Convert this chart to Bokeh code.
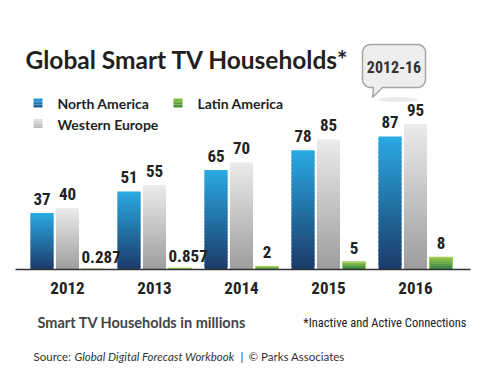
import numpy as np
from bokeh.plotting import figure
from bokeh.models import Range1d
from bokeh.core.properties import value
from bokeh.embed import file_html
from bokeh.resources import INLINE

# ---------------- data ----------------
years = ["2012", "2013", "2014", "2015", "2016"]
north_america = [37, 51, 65, 78, 87]
western_europe = [40, 55, 70, 85, 95]
latin_america = [0.287, 0.857, 2, 5, 8]
series_names = ["North America", "Latin America", "Western Europe"]

title_text = "Global Smart TV Households*"
bubble_text = "2012-16"
unit_text = "Smart TV Households in millions"
note_text = "*Inactive and Active Connections"

# ---------------- styles ----------------
NUM_FONT = value("'Roboto Condensed', 'Noto Sans Condensed', 'Liberation Sans Narrow', 'Arial Narrow', 'Noto Sans ExtraCondensed', Roboto")
TXT_FONT = value("Lato")
NA_COLS = ("#1b3a69", "#2aaae2")
WE_COLS = ("#9d9d9d", "#ebebeb")
LA_COLS = ("#1c7136", "#93c940")

W, H = 480, 372
X0, SX = 67, 87        # page px of first group, px per group
Y0, SY = 269, 1.53     # page px of baseline, px per million
p = figure(width=W, height=H, output_backend="svg", toolbar_location=None,
           x_axis_location=None, y_axis_location=None, min_border=0,
           x_range=Range1d(-X0 / SX, (W - X0) / SX),
           y_range=Range1d(-(H - Y0) / SY, Y0 / SY))
p.outline_line_color = None
p.xgrid.visible = False
p.ygrid.visible = False
p.background_fill_color = "white"
p.border_fill_color = "white"

# pixel ranges (page coordinates) for decoration
p.extra_x_ranges = {"px": Range1d(0, W)}
p.extra_y_ranges = {"px": Range1d(H, 0)}
PX = dict(x_range_name="px", y_range_name="px")


def hex2rgb(h):
    h = h.lstrip("#")
    return np.array([int(h[i:i + 2], 16) for i in (0, 2, 4)], dtype=float)


def lerp(c1, c2, t):
    a, b = hex2rgb(c1), hex2rgb(c2)
    c = a + (b - a) * t
    return "#%02x%02x%02x" % tuple(int(round(v)) for v in c)


N = 30


def grad_bars(xs, vals, width, cols):
    L, R, B, T, C = [], [], [], [], []
    for x, v in zip(xs, vals):
        for k in range(N):
            L.append(x - width / 2)
            R.append(x + width / 2)
            B.append(v * k / N)
            T.append(min(v, v * (k + 1.6) / N))
            C.append(lerp(cols[0], cols[1], (k + 0.5) / N))
    p.quad(left=L, right=R, bottom=B, top=T, fill_color=C, line_color=None)


idx = np.arange(len(years))
off = 0.293
bw = 0.265
grad_bars(idx - off, north_america, bw, NA_COLS)
grad_bars(idx, western_europe, bw, WE_COLS)
grad_bars(idx + off, latin_america, bw, LA_COLS)
# thin outline so tiny bars remain visible
p.vbar(x=idx + off, top=latin_america, width=bw, fill_color=None,
       line_color="#9ccc4a", line_width=1)


def labels(xs, vals, align="center", yoff=-14):
    p.text(x=list(xs), y=list(vals), text=[f"{v:g}" for v in vals],
           text_font=NUM_FONT, text_font_style="bold", text_font_size="17px",
           text_color="#222222", text_align=align, text_baseline="alphabetic",
           y_offset=yoff)


labels(idx - off, north_america)
labels(idx, western_europe)
small = [i for i, v in enumerate(latin_america) if v < 1]
big = [i for i, v in enumerate(latin_america) if v >= 1]
labels([i + off - bw / 2 for i in small], [latin_america[i] for i in small], "left", -12)
labels([i + off for i in big], [latin_america[i] for i in big], "center", -14)

# baseline
p.line(x=[15, 470], y=[269, 269], line_color="#333333", line_width=1.5, **PX)

# year labels
p.text(x=list(idx), y=[0] * len(years), text=years, text_font=NUM_FONT,
       text_font_style="bold", text_font_size="17px", text_color="#222222",
       text_align="center", text_baseline="alphabetic", y_offset=18)

# title
p.text(x=[25], y=[59], text=[title_text], text_font=TXT_FONT,
       text_font_style="bold", text_font_size="24.5px", text_color="#231f20",
       text_baseline="alphabetic", **PX)

# legend
leg = [(37.5, 102.5, NA_COLS), (177.5, 102.5, LA_COLS), (37.5, 123, WE_COLS)]
for (cx, cy, cols), name in zip(leg, series_names):
    for k in range(6):
        p.quad(left=[cx - 4.5], right=[cx + 4.5],
               bottom=[cy + 4.5 - 9 * k / 6], top=[cy + 4.5 - 9 * (k + 1) / 6],
               fill_color=lerp(cols[0], cols[1], 0.3 + 0.6 * (k + 0.5) / 6),
               line_color=None, **PX)
    p.text(x=[cx + 19.5], y=[cy + 0.5], text=[name], text_font=TXT_FONT,
           text_font_style="bold", text_font_size="14px", text_color="#231f20",
           text_baseline="alphabetic", **PX)

# speech bubble
x0, x1, y0, y1, r = 362, 425, 44, 87, 8
bx, by = [], []
for (cx, cy, a0) in [(x1 - r, y0 + r, -90), (x1 - r, y1 - r, 0),
                     (x0 + r, y1 - r, 90), (x0 + r, y0 + r, 180)]:
    for a in np.linspace(a0, a0 + 90, 8):
        bx.append(cx + r * np.cos(np.radians(a)))
        by.append(cy + r * np.sin(np.radians(a)))
    if a0 == 0:
        bx += [382, 372, 373]
        by += [y1, 97, y1]
p.ellipse(x=[398], y=[99], width=40, height=5, fill_color="#dddddd",
          fill_alpha=0.6, line_color=None, **PX)
p.patch(x=bx, y=by, fill_color="#eeeeee", line_color="#a6a6a6", line_width=1.5, **PX)
p.text(x=[393.5], y=[66], text=[bubble_text], text_font=NUM_FONT,
       text_font_style="bold", text_font_size="16px", text_color="#333333",
       text_align="center", text_baseline="alphabetic", **PX)

# footnotes
p.text(x=[37], y=[322], text=[unit_text], text_font=TXT_FONT,
       text_font_style="bold", text_font_size="14.5px", text_color="#444444",
       text_baseline="alphabetic", **PX)
p.text(x=[466], y=[322], text=[note_text], text_font=NUM_FONT,
       text_font_size="12.5px", text_color="#222222", text_align="right",
       text_baseline="alphabetic", **PX)

src = [("Source:", "normal", 33), ("Global Digital Forecast Workbook", "italic", 74),
       ("|", "normal", 240), ("\u00a9 Parks Associates", "normal", 248)]
for t, st, x in src:
    p.text(x=[x], y=[356], text=[t], text_font=TXT_FONT, text_font_style=st,
           text_font_size="11.5px", text_color="#333333", text_baseline="alphabetic", **PX)

open("out.html", "w").write(file_html(p, INLINE))
